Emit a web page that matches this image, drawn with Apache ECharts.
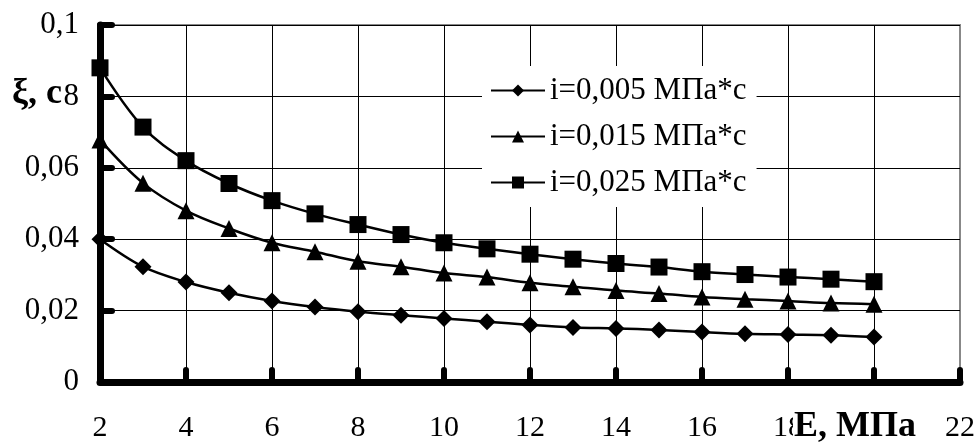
<!DOCTYPE html>
<html>
<head>
<meta charset="utf-8">
<script src="https://cdn.jsdelivr.net/npm/echarts@6/dist/echarts.min.js"></script>
<style>html,body{margin:0;padding:0;background:#fff}#c{width:978px;height:446px}</style>
</head>
<body>
<div id="c"></div>
<script>
const E = [2,3,4,5,6,7,8,9,10,11,12,13,14,15,16,17,18,19,20];
const s005 = [0.040,0.0323,0.028,0.025,0.0227,0.021,0.0197,0.0187,0.0178,0.0169,0.0160,0.0153,0.0150,0.0146,0.0140,0.0135,0.0133,0.0131,0.0126];
const s015 = [0.0678,0.0557,0.048,0.043,0.039,0.0365,0.0338,0.0323,0.0305,0.0294,0.0278,0.0267,0.0256,0.0248,0.0238,0.0232,0.0227,0.0221,0.0218];
const s025 = [0.088,0.0714,0.062,0.0556,0.0508,0.0471,0.0441,0.0413,0.039,0.0373,0.0358,0.0344,0.0332,0.0322,0.0309,0.0301,0.0294,0.0288,0.0281];
const names = ['i=0,005 МПа*с','i=0,015 МПа*с','i=0,025 МПа*с'];
const symbols = ['diamond','triangle','rect'];
const symbolSizes = [17,17,17];
const xName = 'E, МПа';
const yName = 'ξ, с';

const allSeries = [s005, s015, s025];
const font = 'Liberation Serif';
const chart = echarts.init(document.getElementById('c'));
chart.setOption({
  animation:false,
  backgroundColor:'#fff',
  grid:{left:100,right:16,top:25,bottom:64,show:true,borderColor:'#888',borderWidth:2,backgroundColor:'transparent'},
  xAxis:{type:'value',min:2,max:22,interval:2,
    axisLine:{show:true,onZero:false,lineStyle:{color:'#000',width:7,cap:'round'}},
    axisTick:{show:true,inside:true,length:12,lineStyle:{color:'#000',width:6,cap:'round'}},
    axisLabel:{color:'#000',fontFamily:font,fontSize:30,margin:31},
    splitLine:{show:true,showMaxLine:false,showMinLine:false,lineStyle:{color:'#000',width:1}}},
  yAxis:{type:'value',min:0,max:0.1,interval:0.02,
    axisLine:{show:true,onZero:false,lineStyle:{color:'#000',width:7,cap:'round'}},
    axisTick:{show:true,inside:true,length:12,lineStyle:{color:'#000',width:6,cap:'round'}},
    axisLabel:{color:'#000',fontFamily:font,fontSize:31,margin:21,formatter:v=>String(+v.toFixed(3)).replace('.',',')},
    splitLine:{show:true,showMinLine:false,lineStyle:{color:'#000',width:1}}},
  legend:{orient:'vertical',left:482,top:66,padding:[9,10,9,8],itemGap:15,itemWidth:54,itemHeight:15,
    backgroundColor:'#fff',z:10,
    textStyle:{color:'#000',fontFamily:font,fontSize:31},
    data:names},
  series: allSeries.map((arr,i)=>({
    name:names[i],type:'line',smooth:0.35,
    data:E.map((x,j)=>[x,arr[j]]),
    symbol:symbols[i],symbolSize:symbolSizes[i],showAllSymbol:true,
    lineStyle:{color:'#000',width:2.5},itemStyle:{color:'#000'},
    z:3
  })),
  graphic:[
    {type:'text',left:12,top:76,z:20,style:{text:yName,fontFamily:font,fontSize:36,fontWeight:'bold',fill:'#000',backgroundColor:'#fff',padding:[0,2,0,0]}},
    {type:'text',left:793,top:409,z:20,style:{text:xName,fontFamily:font,fontSize:36,fontWeight:'bold',fill:'#000',backgroundColor:'#fff',padding:[0,4,0,1]}}
  ]
});
</script>
</body>
</html>
